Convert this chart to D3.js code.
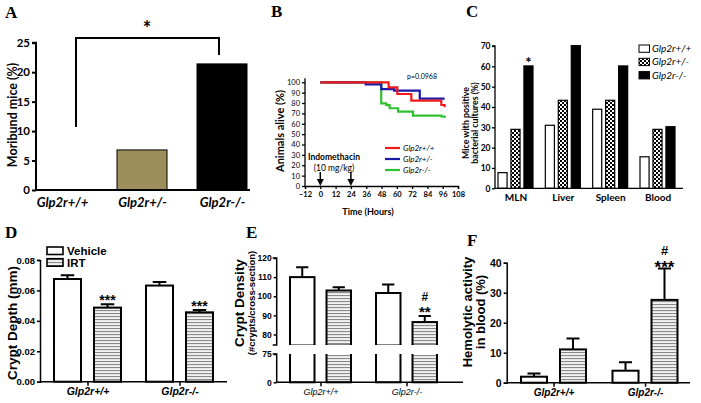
<!DOCTYPE html>
<html>
<head>
<meta charset="utf-8">
<script src="https://cdn.jsdelivr.net/npm/d3@7"></script>
<style>
  body { margin: 0; background: #fff; }
  svg { display: block; }
  .cal { font-family: Lato, "Open Sans", sans-serif; }
  .ari { font-family: "Liberation Sans", Arial, sans-serif; }
  .letter { font-family: "Liberation Serif", "Times New Roman", serif; font-weight: bold; font-size: 17px; }
</style>
</head>
<body>
<svg id="svg" width="701" height="403"></svg>
<script>
// ---- data ----
// A
const moribundGroups = ["Glp2r+/+", "Glp2r+/-", "Glp2r-/-"];
const moribundPct = [0, 6.8, 21.4];
const moribundTicks = [0, 5, 10, 15, 20, 25];

// B (Kaplan-Meier steps)
const survGenotypes = ["Glp2r+/+", "Glp2r+/-", "Glp2r-/-"];
const survRedTime = [0, 53.6, 60.4, 71.4, 94.9, 97.5];
const survRedPct = [100, 95.2, 88.7, 82.3, 78.1, 75.9];
const survBlueTime = [0, 35.6, 47.8, 58, 78, 97.5];
const survBluePct = [100, 98, 93.5, 91.9, 84.2, 84.2];
const survGreenTime = [0, 47.8, 51.8, 54.4, 61, 72.7, 95, 97.5];
const survGreenPct = [100, 79.7, 78, 75, 71.7, 67.8, 67, 65.6];
const survXTicks = [-12, 0, 12, 24, 36, 48, 60, 72, 84, 96, 108];
const survYTicks = [0, 10, 20, 30, 40, 50, 60, 70, 80, 90, 100];
const doseTimes = [0, 24];

// C
const organs = ["MLN", "Liver", "Spleen", "Blood"];
const cultureWT = [7.7, 31, 38.9, 15.5];
const cultureHet = [29, 43.3, 43.3, 29];
const cultureKO = [60.2, 70.2, 60.2, 30.3];
const cultureTicks = [0, 10, 20, 30, 40, 50, 60, 70];

// D, E, F
const genotypes = ["Glp2r+/+", "Glp2r-/-"];
const treatments = ["Vehicle", "IRT"];
const depthVehicle = [0.0675, 0.0632];
const depthVehicleErr = [0.0024, 0.0024];
const depthIRT = [0.0487, 0.0456];
const depthIRTErr = [0.0022, 0.0015];
const depthTicks = [0, 0.02, 0.04, 0.06, 0.08];

const densVehicle = [110, 101.7];
const densVehicleErr = [5.2, 4.4];
const densIRT = [103, 86.5];
const densIRTErr = [1.7, 3.2];
const densUpperTicks = [80, 90, 100, 110, 120];
const densLowerTicks = [0, 75];

const hemoVehicle = [2.0, 4.0];
const hemoVehicleErr = [1.1, 2.8];
const hemoIRT = [11.1, 27.6];
const hemoIRTErr = [3.6, 10.5];
const hemoTicks = [0, 10, 20, 30, 40];

const svg = d3.select("#svg");

// patterns
const defs = svg.append("defs");
const stripe = defs.append("pattern").attr("id", "stripes")
    .attr("patternUnits", "userSpaceOnUse").attr("width", 6).attr("height", 3);
stripe.append("rect").attr("width", 6).attr("height", 3).attr("fill", "#f2f2f2");
stripe.append("rect").attr("y", 1).attr("width", 6).attr("height", 1.1).attr("fill", "#8a8a8a");
const check = defs.append("pattern").attr("id", "checker")
    .attr("patternUnits", "userSpaceOnUse").attr("width", 4).attr("height", 4);
check.append("rect").attr("width", 4).attr("height", 4).attr("fill", "#fff");
check.append("rect").attr("width", 2).attr("height", 2).attr("fill", "#000");
check.append("rect").attr("x", 2).attr("y", 2).attr("width", 2).attr("height", 2).attr("fill", "#000");

function styleAxis(g, cls, size, weight, w) {
    g.selectAll("path").attr("stroke", "#000").attr("stroke-width", w);
    g.selectAll("line").attr("stroke", "#000").attr("stroke-width", w);
    g.selectAll("text").attr("class", cls).attr("font-size", size)
        .attr("font-weight", weight).attr("fill", "#000");
}

function letter(t, x, y) {
    svg.append("text").attr("class", "letter").attr("x", x).attr("y", y).text(t);
}

function rotTitle(lines, x0, yc, cls, sizes, gap) {
    lines.forEach((t, i) => {
        svg.append("text").attr("class", cls)
            .attr("transform", `translate(${x0 + i * gap},${yc}) rotate(-90)`)
            .attr("text-anchor", "middle").attr("font-weight", "bold")
            .attr("font-size", sizes[i]).text(t);
    });
}

function stars(x, y, txt, size) {
    svg.append("text").attr("class", "ari").attr("x", x).attr("y", y).attr("text-anchor", "middle")
        .attr("font-size", size).attr("font-weight", "bold").text(txt);
}

// =========== A ===========
(function() {
    const x = d3.scalePoint().domain(moribundGroups).range([62, 222]);
    const y = d3.scaleLinear().domain([0, 25]).range([190, 42.7]);
    const fills = ["#fff", "#9c8f5b", "#000"];
    letter("A", 5, 18);

    svg.append("g").selectAll("rect").data(moribundPct).join("rect")
        .attr("x", (d, i) => x(moribundGroups[i]) - 25)
        .attr("width", 50)
        .attr("y", d => y(d))
        .attr("height", d => y(0) - y(d))
        .attr("fill", (d, i) => fills[i])
        .attr("stroke", "#000").attr("stroke-width", 1);

    const ya = svg.append("g").attr("transform", "translate(36,0)")
        .call(d3.axisLeft(y).tickValues(moribundTicks).tickSize(4).tickPadding(2));
    styleAxis(ya, "cal", 11.5, "bold", 2);
    ya.select(".domain").attr("d", `M-4,${y(25)}H0V${y(0)}`);
    const xa = svg.append("g").attr("transform", "translate(0,190)")
        .call(d3.axisBottom(x).tickSize(0).tickPadding(8));
    styleAxis(xa, "cal", 13, "bold", 2);
    xa.select(".domain").attr("d", "M36,0H250");
    xa.selectAll("text").attr("font-style", "italic");

    // significance bracket
    const b = d3.path();
    b.moveTo(x(moribundGroups[0]) + 14, y(10.7));
    b.lineTo(x(moribundGroups[0]) + 14, y(25.8));
    b.lineTo(x(moribundGroups[2]) - 3, y(25.8));
    b.lineTo(x(moribundGroups[2]) - 3, y(22.9));
    svg.append("path").attr("d", b.toString()).attr("fill", "none")
        .attr("stroke", "#000").attr("stroke-width", 2);
    svg.append("text").attr("class", "cal").attr("x", (x(moribundGroups[0]) + x(moribundGroups[2])) / 2 + 5)
        .attr("y", 36).attr("text-anchor", "middle").attr("font-size", 20).attr("font-weight", "bold").text("*");

    rotTitle(["Moribund mice (%)"], 17, 115, "cal", [12.5], 0);
})();

// =========== B ===========
(function() {
    const x = d3.scaleLinear().domain([-12, 108]).range([305, 458]);
    const y = d3.scaleLinear().domain([0, 100]).range([186, 82.3]);
    letter("B", 271, 17);

    const ya = svg.append("g").attr("transform", "translate(305,0)")
        .call(d3.axisLeft(y).tickValues(survYTicks).tickSize(3).tickPadding(2));
    styleAxis(ya, "cal", 7.5, "normal", 1.3);
    ya.select(".domain").attr("d", `M0,${y(100) - 4}V${y(0)}`);
    const xa = svg.append("g").attr("transform", "translate(0,186)")
        .call(d3.axisBottom(x).tickValues(survXTicks).tickSize(3).tickPadding(3));
    styleAxis(xa, "cal", 7.5, "bold", 1.3);

    const line = d3.line().curve(d3.curveStepAfter).x(d => x(d[0])).y(d => y(d[1]));
    const curves = [
        { t: survGreenTime, v: survGreenPct, c: "#2fc12f" },
        { t: survBlueTime, v: survBluePct, c: "#1a1aa8" },
        { t: survRedTime, v: survRedPct, c: "#f01a1a" }
    ];
    curves.forEach(s => {
        svg.append("path").attr("d", line(d3.zip(s.t, s.v)))
            .attr("fill", "none").attr("stroke", s.c).attr("stroke-width", 2.2);
    });

    // legend
    const legColors = ["#f01a1a", "#1a1aa8", "#2fc12f"];
    survGenotypes.forEach((g, i) => {
        const yy = 148 + i * 11;
        svg.append("line").attr("x1", 385).attr("x2", 400).attr("y1", yy).attr("y2", yy)
            .attr("stroke", legColors[i]).attr("stroke-width", 2.2);
        svg.append("text").attr("class", "cal").attr("x", 403).attr("y", yy + 3)
            .attr("font-size", 8).attr("font-style", "italic").text(g);
    });

    svg.append("text").attr("class", "cal").attr("x", 422).attr("y", 78.5)
        .attr("text-anchor", "middle").attr("font-size", 7).text("p=0.0968");
    svg.append("text").attr("class", "cal").attr("x", 334).attr("y", 160)
        .attr("text-anchor", "middle").attr("font-size", 8.5).attr("font-weight", "bold").text("Indomethacin");
    svg.append("text").attr("class", "cal").attr("x", 334).attr("y", 171)
        .attr("text-anchor", "middle").attr("font-size", 8.5).text("(10 mg/kg)");

    doseTimes.forEach(t => {
        svg.append("line").attr("x1", x(t)).attr("x2", x(t)).attr("y1", 172).attr("y2", 180)
            .attr("stroke", "#000").attr("stroke-width", 1.5);
        svg.append("path").attr("d", `M${x(t) - 3.5},179L${x(t) + 3.5},179L${x(t)},186Z`).attr("fill", "#000");
    });

    svg.append("text").attr("class", "cal").attr("x", 368).attr("y", 215)
        .attr("text-anchor", "middle").attr("font-size", 9).attr("font-weight", "bold").text("Time (Hours)");
    rotTitle(["Animals alive (%)"], 284, 131, "cal", [11], 0);
})();

// =========== C ===========
(function() {
    const x = d3.scalePoint().domain(organs).range([515.5, 657.5]);
    const xi = d3.scaleBand().domain([0, 1, 2]).range([-17.5, 17.5]).paddingInner(0.3);
    const y = d3.scaleLinear().domain([0, 70]).range([188.3, 46]);
    const series = [cultureWT, cultureHet, cultureKO];
    const fills = ["#fff", "url(#checker)", "#000"];
    letter("C", 466, 17);

    series.forEach((vals, s) => {
        svg.append("g").selectAll("rect").data(vals).join("rect")
            .attr("x", (d, i) => x(organs[i]) + xi(s))
            .attr("width", xi.bandwidth())
            .attr("y", d => y(d))
            .attr("height", d => y(0) - y(d))
            .attr("fill", fills[s]).attr("stroke", "#000").attr("stroke-width", 1.2);
    });

    const ya = svg.append("g").attr("transform", "translate(495,0)")
        .call(d3.axisLeft(y).tickValues(cultureTicks).tickSize(3).tickPadding(1.5));
    styleAxis(ya, "cal", 8.5, "bold", 1.3);
    ya.select(".domain").attr("d", `M-3,${y(70)}H0V${y(0)}`);
    const xa = svg.append("g").attr("transform", "translate(0,188.3)")
        .call(d3.axisBottom(x).tickSize(0).tickPadding(6));
    styleAxis(xa, "cal", 10, "bold", 1.3);
    xa.select(".domain").attr("d", "M495,0H683");

    svg.append("text").attr("class", "cal").attr("x", x("MLN") + xi(2) + xi.bandwidth() / 2)
        .attr("y", y(cultureKO[0]) + 2).attr("text-anchor", "middle")
        .attr("font-size", 15).attr("font-weight", "bold").text("*");

    // legend
    survGenotypes.forEach((g, i) => {
        const yy = 45 + i * 13.3;
        svg.append("rect").attr("x", 639).attr("y", yy).attr("width", 10.5).attr("height", 7.3)
            .attr("fill", fills[i]).attr("stroke", "#000").attr("stroke-width", 1);
        svg.append("text").attr("class", "cal").attr("x", 652).attr("y", yy + 7)
            .attr("font-size", 10).attr("font-style", "italic").text(g);
    });

    rotTitle(["Mice with positive", "bacterial cultures (%)"], 469, 123, "cal", [8.8, 8.8], 9);
})();

// grouped bar panel (D, E, F)
function groupPanel(o) {
    const x = d3.scalePoint().domain(genotypes).range(o.xr);
    const xi = d3.scaleBand().domain(treatments).range([-o.half, o.half]).paddingInner(o.pad);
    return { x, xi };
}

function drawBars(x, xi, y, vals, errs, tr) {
    const fill = tr === "IRT" ? "url(#stripes)" : "#fff";
    vals.forEach((v, i) => {
        const x0 = x(genotypes[i]) + xi(tr);
        const w = xi.bandwidth();
        svg.append("rect").attr("x", x0).attr("y", y(v)).attr("width", w)
            .attr("height", y.range()[0] - y(v)).attr("fill", fill)
            .attr("stroke", "#000").attr("stroke-width", 2);
        const xc = x0 + w / 2;
        svg.append("path").attr("d", `M${xc},${y(v)}V${y(v + errs[i])}M${xc - w / 4},${y(v + errs[i])}H${xc + w / 4}`)
            .attr("stroke", "#000").attr("stroke-width", 2).attr("fill", "none");
    });
}

// =========== D ===========
(function() {
    const { x, xi } = groupPanel({ xr: [87.5, 179.5], half: 33.5, pad: 0.325 });
    const y = d3.scaleLinear().domain([0, 0.08]).range([381.7, 260]);
    letter("D", 5, 238);

    drawBars(x, xi, y, depthVehicle, depthVehicleErr, "Vehicle");
    drawBars(x, xi, y, depthIRT, depthIRTErr, "IRT");

    const ya = svg.append("g").attr("transform", "translate(40,0)")
        .call(d3.axisLeft(y).tickValues(depthTicks).tickFormat(d3.format(".2f")).tickSize(3).tickPadding(2));
    styleAxis(ya, "ari", 9.5, "bold", 1.5);
    const xa = svg.append("g").attr("transform", "translate(0,381.7)")
        .call(d3.axisBottom(x).tickSize(4).tickPadding(2));
    styleAxis(xa, "ari", 10.5, "bold", 1.5);
    xa.select(".domain").attr("d", "M40,0H227");
    xa.selectAll("text").attr("font-style", "italic");

    depthIRT.forEach((v, i) => {
        stars(x(genotypes[i]) + xi("IRT") + xi.bandwidth() / 2, y(v + depthIRTErr[i]) + 1, "***", 14);
    });

    treatments.forEach((t, i) => {
        const yy = 247 + i * 11.7;
        svg.append("rect").attr("x", 47).attr("y", yy).attr("width", 16).attr("height", 7.5)
            .attr("fill", t === "IRT" ? "url(#stripes)" : "#fff").attr("stroke", "#000").attr("stroke-width", 1.6);
        svg.append("text").attr("class", "ari").attr("x", 67).attr("y", yy + 8)
            .attr("font-size", 11.5).attr("font-weight", "bold").text(t);
    });

    rotTitle(["Crypt  Depth  (mm)"], 17, 323, "ari", [13.5], 0);
})();

// =========== E ===========
(function() {
    const { x, xi } = groupPanel({ xr: [320.5, 406.5], half: 30.5, pad: 0.329 });
    const yU = d3.scaleLinear().domain([74.5, 120]).range([345, 258]);
    const yL = d3.scaleLinear().domain([0, 75]).range([382.3, 354]);
    letter("E", 246, 238);

    [[densVehicle, densVehicleErr, "Vehicle"], [densIRT, densIRTErr, "IRT"]].forEach(([vals, errs, tr]) => {
        drawBars(x, xi, yU, vals, errs, tr);
        vals.forEach((v, i) => {
            svg.append("rect").attr("x", x(genotypes[i]) + xi(tr)).attr("y", yL(75))
                .attr("width", xi.bandwidth()).attr("height", yL(0) - yL(75))
                .attr("fill", tr === "IRT" ? "url(#stripes)" : "#fff")
                .attr("stroke", "#000").attr("stroke-width", 2);
        });
    });
    // axis break: open the bars between the two segments
    svg.append("rect").attr("x", 277).attr("y", yU(74.5) - 0.5).attr("width", 190)
        .attr("height", yL(75) - yU(74.5) + 1.5).attr("fill", "#fff");
    svg.selectAll(null).data(d3.cross(genotypes, treatments)).join("path")
        .attr("d", d => {
            const x0 = x(d[0]) + xi(d[1]), x1 = x0 + xi.bandwidth();
            return `M${x0},${yU(74.5) - 1}V${yU(74.5)}M${x1},${yU(74.5) - 1}V${yU(74.5)}M${x0},${yL(75) + 1}V${yL(75)}M${x1},${yL(75) + 1}V${yL(75)}`;
        }).attr("stroke", "#000").attr("stroke-width", 2);

    const yaU = svg.append("g").attr("transform", "translate(276.7,0)")
        .call(d3.axisLeft(yU).tickValues(densUpperTicks).tickSize(3).tickPadding(2));
    styleAxis(yaU, "ari", 8.5, "bold", 1.5);
    yaU.select(".domain").attr("d", `M-4,${yU(120)}H0V${yU(74.5)}H-4`);
    const yaL = svg.append("g").attr("transform", "translate(276.7,0)")
        .call(d3.axisLeft(yL).tickValues(densLowerTicks).tickSize(3).tickPadding(2));
    styleAxis(yaL, "ari", 8.5, "bold", 1.5);
    yaL.select(".domain").attr("d", `M-4,${yL(75)}H0V${yL(0)}`);

    const xa = svg.append("g").attr("transform", "translate(0,382.3)")
        .call(d3.axisBottom(x).tickSize(4).tickPadding(2));
    styleAxis(xa, "ari", 9, "normal", 1.5);
    xa.select(".domain").attr("d", "M276.7,0H463");
    xa.selectAll("text").attr("font-style", "italic");

    const xc = x(genotypes[1]) + xi("IRT") + xi.bandwidth() / 2;
    const top = yU(densIRT[1] + densIRTErr[1]);
    stars(xc, top + 1, "**", 15);
    stars(xc, top - 15, "#", 12);

    rotTitle(["Crypt  Density", "(#crypts/cross-section)"], 244, 303, "ari", [13.5, 9.5], 11);
})();

// =========== F ===========
(function() {
    const { x, xi } = groupPanel({ xr: [553.5, 645], half: 32.5, pad: 0.333 });
    const y = d3.scaleLinear().domain([0, 40]).range([382.7, 262.7]);
    letter("F", 467, 246);

    drawBars(x, xi, y, hemoVehicle, hemoVehicleErr, "Vehicle");
    drawBars(x, xi, y, hemoIRT, hemoIRTErr, "IRT");

    const ya = svg.append("g").attr("transform", "translate(506.7,0)")
        .call(d3.axisLeft(y).tickValues(hemoTicks).tickSize(3).tickPadding(2));
    styleAxis(ya, "ari", 10.5, "bold", 1.5);
    const xa = svg.append("g").attr("transform", "translate(0,382.7)")
        .call(d3.axisBottom(x).tickSize(4).tickPadding(2));
    styleAxis(xa, "ari", 10, "bold", 1.5);
    xa.select(".domain").attr("d", "M506.7,0H690");
    xa.selectAll("text").attr("font-style", "italic");

    const xc = x(genotypes[1]) + xi("IRT") + xi.bandwidth() / 2;
    const top = y(hemoIRT[1] + hemoIRTErr[1]);
    stars(xc, top + 5, "***", 17);
    stars(xc, top - 13, "#", 13);

    rotTitle(["Hemolytic activity", "in blood  (%)"], 472, 312, "ari", [13, 13], 13);
})();
</script>
</body>
</html>
